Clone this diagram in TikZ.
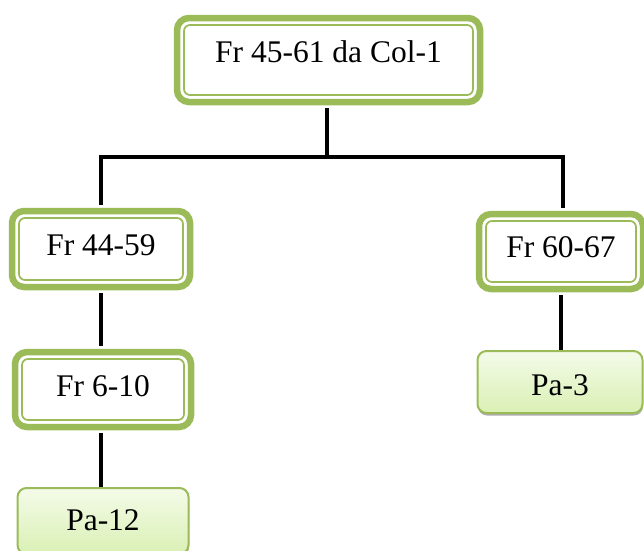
\documentclass[tikz,border=0pt]{standalone}
\usepackage{fontspec}
\setmainfont{Liberation Serif}
\usetikzlibrary{shadows}
\definecolor{grn}{HTML}{9BBB59}
\definecolor{pafilltop}{HTML}{F4FBE9}
\definecolor{pafillbot}{HTML}{DAF0B4}
\tikzset{
  frbox/.style={draw=grn, line width=6.5pt, rounded corners=12pt, fill=white,
    inner sep=0pt, font=\fontsize{31.5}{36}\selectfont,
    path picture={\draw[grn, line width=1.7pt, rounded corners=6pt]
      ([shift={(7pt,-7pt)}]path picture bounding box.north west) rectangle
      ([shift={(-7pt,7pt)}]path picture bounding box.south east);}},
  pabox/.style={draw=grn, line width=2pt, rounded corners=9pt,
    top color=pafilltop, bottom color=pafillbot,
    inner sep=0pt, font=\fontsize{31.5}{36}\selectfont,
    drop shadow={shadow xshift=0.5pt, shadow yshift=-2.5pt, fill=black!45, opacity=0.7}},
  conn/.style={line width=3.5pt, black}
}
\begin{document}
\begin{tikzpicture}[x=1pt,y=-1pt]
\useasboundingbox (0,0) rectangle (644,550);
\node[frbox, minimum width=303pt, minimum height=84pt, text height=22pt, text depth=18pt] (top) at (328.5,60) {Fr 45-61 da Col-1};
\node[frbox, minimum width=178pt, minimum height=76pt, text height=22pt, text depth=10pt] (l1) at (101,249) {Fr 44-59};
\node[frbox, minimum width=164pt, minimum height=75pt, text height=22pt, text depth=11pt] (r1) at (561,251.5) {Fr 60-67};
\node[frbox, minimum width=176pt, minimum height=75pt, text height=22pt, text depth=9pt] (l2) at (103,389.5) {Fr 6-10};
\node[pabox, minimum width=165pt, minimum height=62pt, text height=26pt, text depth=0pt] (pa3) at (560,382) {Pa-3};
\node[pabox, minimum width=171pt, minimum height=66pt, text height=18pt, text depth=0pt] (pa12) at (103,521) {Pa-12};
\coordinate (j) at (327,157);
\coordinate (jl) at (101,157);
\coordinate (jr) at (563,157);
\draw[conn] ([yshift=-3pt]top.south -| j) -- (j);
\draw[conn] ([yshift=3pt]l1.north -| jl) -- (jl) -- (jr) -- ([yshift=3pt]r1.north -| jr);
\draw[conn] ([yshift=-3pt]l1.south -| jl) -- ([yshift=3pt]l2.north -| jl);
\draw[conn] ([yshift=-3pt]l2.south -| jl) -- (pa12.north -| jl);
\draw[conn] ([yshift=-3pt]r1.south) -- (pa3.north -| r1.south);
\end{tikzpicture}
\end{document}
